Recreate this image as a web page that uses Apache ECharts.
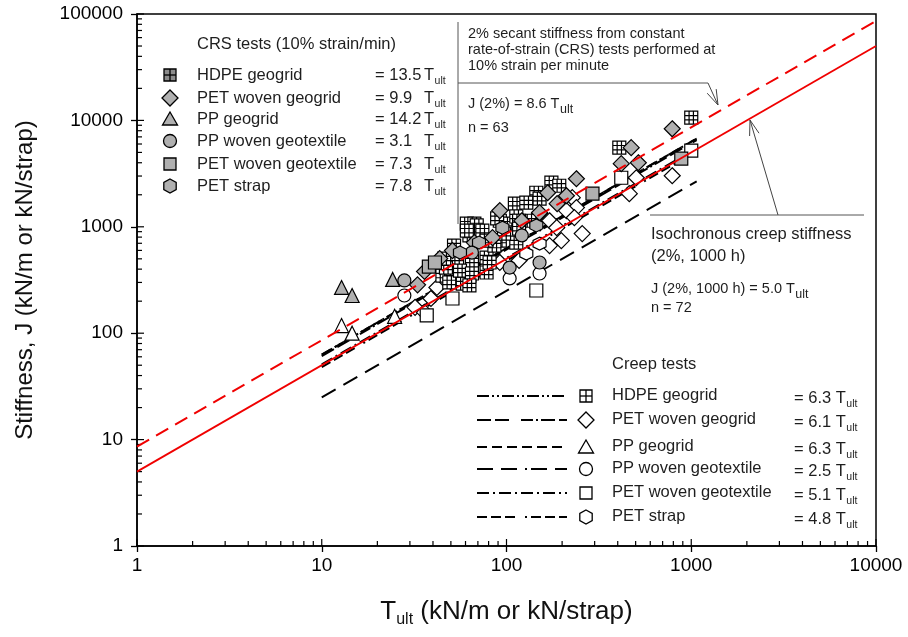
<!DOCTYPE html>
<html><head><meta charset="utf-8">
<script src="https://cdn.jsdelivr.net/npm/echarts@6.0.0/dist/echarts.min.js"></script>
<style>html,body{margin:0;padding:0;background:#fff;}#chart{width:908px;height:637px;}</style>
</head><body><div id="chart"></div>
<script>
// ---------------- DATA (Tult, J) ----------------
// CRS tests (grey markers)
const crsHDPE = [[61,1070],[67,1070],[63,830],[69,860],[175,2600],[145,2090],[111,1650],[128,1690],[92,1140],[104,1070],[69,1030],[61,920],[74,920],[408,5540],[1000,10600],[89,1200],[113,1250],[117,1140],[46,503],[52,666],[78,742],[97,863],[117,960],[151,1840],[193,2430]];
const crsPETgeogrid = [[33,285],[36,380],[51,598],[67,711],[167,2090],[188,1650],[239,2830],[211,1960],[418,3920],[473,5540],[517,4000],[789,8340],[151,1360],[121,1140],[84,790],[43.5,503],[92,1420]];
const crsPPgeogrid = [[12.8,269],[14.6,226],[24.2,320]];
const crsPPgeotextile = [[28,313],[65,573],[121,830],[104,414],[151,462]];
const crsPETgeotextile = [[38,423],[41,462],[292,2050],[883,4370]];
const crsPETstrap = [[56,573],[71,711],[95,980],[145,1030]];
// Creep tests (white markers)
const creepHDPE = [[45,348],[51,364],[57,372],[63,348],[49,300],[58,293],[92,742],[113,711],[54,503],[65,482],[78,514],[47,414],[56,388],[65,364],[78,372],[63,281],[133,1140],[81,462],[86,666]];
const creepPETgeogrid = [[32,175],[36,157],[39,212],[42,269],[227,1880],[239,1515],[211,1420],[233,1220],[151,1330],[171,1140],[187,983],[198,742],[171,666],[257,863],[789,3020],[504,2890],[462,2050],[92,462],[117,482]];
const creepPPgeogrid = [[12.8,118],[14.6,100],[24.8,144]];
const creepPPgeotextile = [[28,226],[104,327],[151,364]];
const creepPETgeotextile = [[37,147],[51,212],[145,252],[1000,5190],[418,2890]];
const creepPETstrap = [[128,560],[151,695]];
// Fitted lines
const crsFit = [[1,8.6],[10000,86000]];          // J(2%) = 8.6 Tult
const creepFit = [[1,5.0],[10000,50000]];        // J(2%,1000h) = 5.0 Tult
const lineHDPE = [[10,63],[1070,6740]];
const linePETgeogrid = [[10,61],[1070,6530]];
const linePPgeogrid = [[10,63],[1070,6740]];
const linePPgeotextile = [[10,25],[1070,2675]];
const linePETgeotextile = [[10,51],[1070,5460]];
const linePETstrap = [[10,48],[1070,5140]];
// Legend texts
const productNames = ['HDPE geogrid','PET woven geogrid','PP geogrid','PP woven geotextile','PET woven geotextile','PET strap'];
const crsFactors = ['13.5','9.9','14.2','3.1','7.3','7.8'];
const creepFactors = ['6.3','6.1','6.3','2.5','5.1','4.8'];
const xMajor = [1,10,100,1000,10000];
const yMajor = [1,10,100,1000,10000,100000];

// ---------------- STYLE ----------------
const FONT = '"Liberation Sans", Arial, Helvetica, sans-serif';
const TXT = '#1e1e1e';
const GRAY = '#b0b0b0';
const HATCH = 'path://M0,0H12V12H0Z M4,0V12 M8,0V12 M0,4H12 M0,8H12';
const HEX = 'path://M6,0L11.2,3V9L6,12L0.8,9V3Z';

const xMinor = [], yMinor = [];
for (let e = 0; e < 4; e++) for (let k = 2; k <= 9; k++) xMinor.push(k * Math.pow(10, e));
for (let e = 0; e < 5; e++) for (let k = 2; k <= 9; k++) yMinor.push(k * Math.pow(10, e));

const mctx = document.createElement('canvas').getContext('2d');
function tw(s, size) { mctx.font = size + 'px ' + FONT; return mctx.measureText(s).width; }

function sc(data, symbol, fill, size) {
  return {type:'scatter', data, symbol, symbolSize:size, silent:true, z:3,
    itemStyle:{color:fill, borderColor:'#000', borderWidth:1.2, opacity:1}};
}
function ln(data, dash, color, width, z) {
  return {type:'line', data, symbol:'none', silent:true, z:z, clip:true,
    lineStyle:{color, width, type:dash}};
}
function tickSeries(vals, axis, len) {
  return {type:'custom', silent:true, z:6, clip:false,
    data: vals.map(v => axis === 'x' ? [v, 1] : [1, v]),
    renderItem: (p, api) => {
      const c = api.coord([api.value(0), api.value(1)]);
      const shape = axis === 'x' ? {x1:c[0], y1:c[1], x2:c[0], y2:c[1]-len} : {x1:c[0], y1:c[1], x2:c[0]+len, y2:c[1]};
      return {type:'line', shape, style:{stroke:'#000', lineWidth:1.2}};
    }};
}

// ---------------- GRAPHICS (legends, annotations) ----------------
const g = [];
function txt(x, y, s, size, color) {
  g.push({type:'text', x, y, silent:true, z:100,
    style:{text:s, fontSize:size, fontFamily:FONT, fill:color || TXT, align:'left', verticalAlign:'middle'}});
}
function tult(x, y, size, subSize) {
  txt(x, y, 'T', size);
  txt(x + tw('T', size) + 0.5, y + size * 0.38, 'ult', subSize);
}
function seg(x1, y1, x2, y2, color, w, dash) {
  g.push({type:'line', silent:true, z:100, shape:{x1, y1, x2, y2},
    style:{stroke:color || '#444', lineWidth:w || 1, lineDash:dash || null}});
}
function marker(kind, x, y, fill) {
  const st = {fill, stroke:'#000', lineWidth:1.3};
  if (kind === 'hatch') {
    g.push({type:'rect', silent:true, z:100, shape:{x:x-6, y:y-6, width:12, height:12}, style:st});
    seg(x, y-6, x, y+6, '#000', 1.3); seg(x-6, y, x+6, y, '#000', 1.3);
  } else if (kind === 'diamond') {
    g.push({type:'polygon', silent:true, z:100, shape:{points:[[x,y-8],[x+8,y],[x,y+8],[x-8,y]]}, style:st});
  } else if (kind === 'triangle') {
    g.push({type:'polygon', silent:true, z:100, shape:{points:[[x,y-7],[x+7.5,y+6],[x-7.5,y+6]]}, style:st});
  } else if (kind === 'circle') {
    g.push({type:'circle', silent:true, z:100, shape:{cx:x, cy:y, r:6.5}, style:st});
  } else if (kind === 'square') {
    g.push({type:'rect', silent:true, z:100, shape:{x:x-6, y:y-6, width:12, height:12}, style:st});
  } else if (kind === 'hex') {
    g.push({type:'polygon', silent:true, z:100, shape:{points:[[x,y-7],[x+6.2,y-3.5],[x+6.2,y+3.5],[x,y+7],[x-6.2,y+3.5],[x-6.2,y-3.5]]}, style:st});
  }
}
const kinds = ['hatch','diamond','triangle','circle','square','hex'];
const LS = 16.5;

// CRS legend
txt(197, 44, 'CRS tests (10% strain/min)', LS);
const crsY = [75, 98, 119, 141, 164, 186];
crsY.forEach((y, i) => {
  marker(kinds[i], 170, y, i === 0 ? '#8c8c8c' : GRAY);
  txt(197, y, productNames[i], LS);
  txt(375, y, '= ' + crsFactors[i], LS);
  tult(424, y, LS, 10.5);
});

// Creep legend
txt(612, 364, 'Creep tests', LS);
const creepY = [396, 420, 447, 469, 493, 517];
const legendDash = [[12,3,2,3,2,3],[14,4,14,12,12,3,2,3],[10,5],[16,8,16,8,2,4],[12,4,2,4],[10,4,10,4,10,10,2,4]];
creepY.forEach((y, i) => {
  seg(477, y, 567, y, '#000', 2, legendDash[i]);
  marker(kinds[i], 586, y, '#fff');
  txt(612, y - 1, productNames[i], LS);
  txt(794, y + 2, '= ' + creepFactors[i], LS);
  tult(794 + tw('= ' + creepFactors[i] + ' ', LS), y + 2, LS, 10.5);
});

// CRS annotation
const AS = 14.5;
txt(468, 34, '2% secant stiffness from constant', AS);
txt(468, 50, 'rate-of-strain (CRS) tests performed at', AS);
txt(468, 66, '10% strain per minute', AS);
txt(468, 104, 'J (2%) = 8.6 ', AS);
tult(468 + tw('J (2%) = 8.6 ', AS), 104, AS, 12.5);
txt(468, 128, 'n = 63', AS);
seg(458, 22, 458, 224, '#555', 1);
seg(458, 83, 708, 83, '#555', 1);
seg(708, 83, 718, 105, '#444', 1);
g.push({type:'polyline', silent:true, z:100, shape:{points:[[716.2,89.1],[718,105],[707.2,93.2]]}, style:{stroke:'#444', lineWidth:1, fill:null}});

// Creep annotation
txt(651, 234, 'Isochronous creep stiffness', LS);
txt(651, 256, '(2%, 1000 h)', LS);
txt(651, 289, 'J (2%, 1000 h) = 5.0 ', AS);
tult(651 + tw('J (2%, 1000 h) = 5.0 ', AS), 289, AS, 12.5);
txt(651, 308, 'n = 72', AS);
seg(650, 215, 864, 215, '#555', 1);
seg(778, 215, 750, 120, '#444', 1);
g.push({type:'polyline', silent:true, z:100, shape:{points:[[749.6,136],[750,120],[759,133.2]]}, style:{stroke:'#444', lineWidth:1, fill:null}});

// ---------------- CHART ----------------
const chart = echarts.init(document.getElementById('chart'), null, {renderer:'canvas'});
const axisCommon = {
  type:'log', logBase:10,
  axisLine:{show:true, lineStyle:{color:'#000', width:1.5}},
  axisTick:{show:true, length:6, lineStyle:{color:'#000', width:1.3}},
  minorTick:{show:false},
  splitLine:{show:false},
  axisLabel:{color:'#000', fontSize:19, fontFamily:FONT, formatter:v => String(Math.round(v)), showMinLabel:true, showMaxLabel:true}
};
const option = {
  animation:false,
  backgroundColor:'#fff',
  grid:{left:137, right:32, top:14, bottom:91, containLabel:false, outerBoundsMode:'none',
        show:true, borderColor:'#000', borderWidth:1.5, backgroundColor:'transparent'},
  xAxis:Object.assign({}, axisCommon, {
    min:1, max:10000,
    axisLabel:Object.assign({}, axisCommon.axisLabel, {margin:10}),
    name:'{t|T}{s|ult}{t| (kN/m or kN/strap)}', nameLocation:'middle', nameGap:50,
    nameTextStyle:{rich:{
      t:{fontSize:26, fontFamily:FONT, color:'#111'},
      s:{fontSize:16, fontFamily:FONT, color:'#111', padding:[16,0,0,0]}}}
  }),
  yAxis:Object.assign({}, axisCommon, {
    min:1, max:100000,
    axisLabel:Object.assign({}, axisCommon.axisLabel, {margin:14}),
    name:'Stiffness, J (kN/m or kN/strap)', nameLocation:'middle', nameGap:100,
    nameTextStyle:{fontSize:24, fontFamily:FONT, color:'#111'}
  }),
  series:[
    tickSeries(xMinor, 'x', 5), tickSeries(yMinor, 'y', 5),
    tickSeries(xMajor, 'x', 7), tickSeries(yMajor, 'y', 7),
    ln(lineHDPE, [12,3,2,3,2,3], '#000', 2, 2),
    ln(linePETgeogrid, [14,4,14,12,12,3,2,3], '#000', 2, 2),
    ln(linePPgeogrid, [10,5], '#000', 2, 2),
    ln(linePPgeotextile, [16,9], '#000', 2, 2),
    ln(linePETgeotextile, [12,4,2,4], '#000', 2, 2),
    ln(linePETstrap, [10,4,10,4,10,10,2,4], '#000', 2, 2),
    sc(creepPETgeogrid, 'diamond', '#fff', 16),
    sc(creepPPgeogrid, 'triangle', '#fff', 14),
    sc(creepPPgeotextile, 'circle', '#fff', 13),
    sc(creepPETgeotextile, 'rect', '#fff', 13),
    sc(creepPETstrap, HEX, '#fff', 13),
    sc(creepHDPE, HATCH, '#fff', 13),
    sc(crsHDPE, HATCH, '#fff', 13),
    sc(crsPETgeogrid, 'diamond', GRAY, 16),
    sc(crsPPgeogrid, 'triangle', GRAY, 14),
    sc(crsPPgeotextile, 'circle', GRAY, 13),
    sc(crsPETgeotextile, 'rect', GRAY, 13),
    sc(crsPETstrap, HEX, GRAY, 13),
    ln(crsFit, [14,8], '#f00000', 2, 10),
    ln(creepFit, 'solid', '#f00000', 1.8, 10)
  ],
  graphic:{elements:g}
};
chart.setOption(option);
</script>
</body></html>
